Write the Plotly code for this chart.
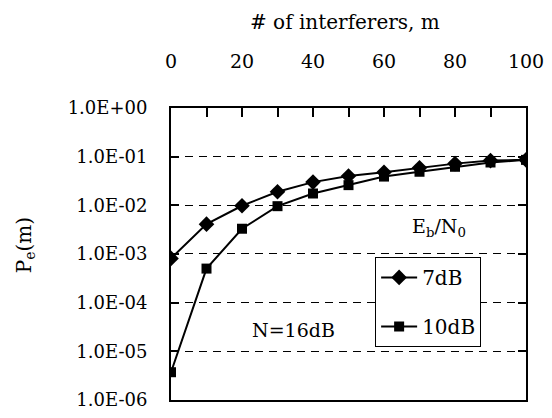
import plotly.graph_objects as go

m = [0, 10, 20, 30, 40, 50, 60, 70, 80, 90, 100]
pe_7db = [8.1e-4, 4.1e-3, 9.8e-3, 1.9e-2, 3.0e-2, 4.0e-2, 4.8e-2, 5.9e-2, 7.2e-2, 8.3e-2, 8.6e-2]
pe_10db = [3.7e-6, 5.0e-4, 3.3e-3, 9.6e-3, 1.75e-2, 2.6e-2, 3.9e-2, 4.9e-2, 6.2e-2, 7.6e-2, 8.6e-2]
x_ticks = [0, 20, 40, 60, 80, 100]
x_ticklabels = ["0", "20", "40", "60", "80", "100"]
y_ticks = [1, 1e-1, 1e-2, 1e-3, 1e-4, 1e-5, 1e-6]
y_ticklabels = ["1.0E+00", "1.0E-01", "1.0E-02", "1.0E-03", "1.0E-04", "1.0E-05", "1.0E-06"]

FONT = "DejaVu Serif"

fig = go.Figure()
fig.add_trace(go.Scatter(
    x=m, y=pe_7db, mode="lines+markers", name="7dB", legendgroup="a",
    line=dict(color="black", width=2),
    marker=dict(symbol="diamond", size=12, color="black"),
))
fig.add_trace(go.Scatter(
    x=m, y=pe_10db, mode="lines+markers", name="10dB", legendgroup="b",
    line=dict(color="black", width=2),
    marker=dict(symbol="square", size=10, color="black"),
))

fig.update_layout(
    width=552, height=418,
    margin=dict(l=171, r=19, t=108, b=8),
    paper_bgcolor="white", plot_bgcolor="white",
    font=dict(family=FONT, size=18, color="black"),
    showlegend=True,
    legend=dict(
        x=0.575, y=0.49, xanchor="left", yanchor="top",
        bgcolor="white", bordercolor="black", borderwidth=1,
        font=dict(family=FONT, size=20, color="black"),
        tracegroupgap=20, itemwidth=36,
    ),
    xaxis=dict(
        range=[0, 100], side="top",
        tickvals=x_ticks, ticktext=x_ticklabels,
        ticks="inside", ticklen=9, tickwidth=2, tickcolor="black",
        minor=dict(dtick=10, ticks="inside", ticklen=9, tickwidth=2,
                   tickcolor="black", showgrid=False),
        showline=True, linecolor="black", linewidth=2, mirror=True,
        showgrid=False, zeroline=False,
        tickfont=dict(family=FONT, size=19, color="black"),
        ticklabelstandoff=30,
    ),
    yaxis=dict(
        type="log", range=[-6.003, 0.001],
        tickvals=y_ticks, ticktext=y_ticklabels,
        ticks="inside", ticklen=8, tickwidth=2, tickcolor="black",
        showline=True, linecolor="black", linewidth=2, mirror="ticks",
        showgrid=True, gridcolor="black", gridwidth=1, griddash="8px,6px",
        zeroline=False,
        tickfont=dict(family=FONT, size=18, color="black"),
        ticklabelstandoff=18, ticklabeloverflow="allow",
    ),
)

fig.add_annotation(
    text="# of interferers, m", xref="paper", yref="paper",
    x=0.49, y=1.0, yshift=86, xanchor="center", yanchor="middle", showarrow=False,
    font=dict(family=FONT, size=20, color="black"),
)
fig.add_annotation(
    text="P<sub>e</sub>(m)", xref="paper", yref="paper",
    x=0, xshift=-146, y=0.53, xanchor="center", yanchor="middle",
    textangle=-90, showarrow=False,
    font=dict(family=FONT, size=20, color="black"),
)
fig.add_annotation(
    text="E<sub>b</sub>/N<sub>0</sub>", xref="paper", yref="paper",
    x=0.755, y=0.59, xanchor="center", yanchor="middle", showarrow=False,
    font=dict(family=FONT, size=19, color="black"),
)
fig.add_annotation(
    text="N=16dB", xref="paper", yref="paper",
    x=0.345, y=0.24, xanchor="center", yanchor="middle", showarrow=False,
    font=dict(family=FONT, size=19, color="black"),
)

fig.write_html("out.html")
